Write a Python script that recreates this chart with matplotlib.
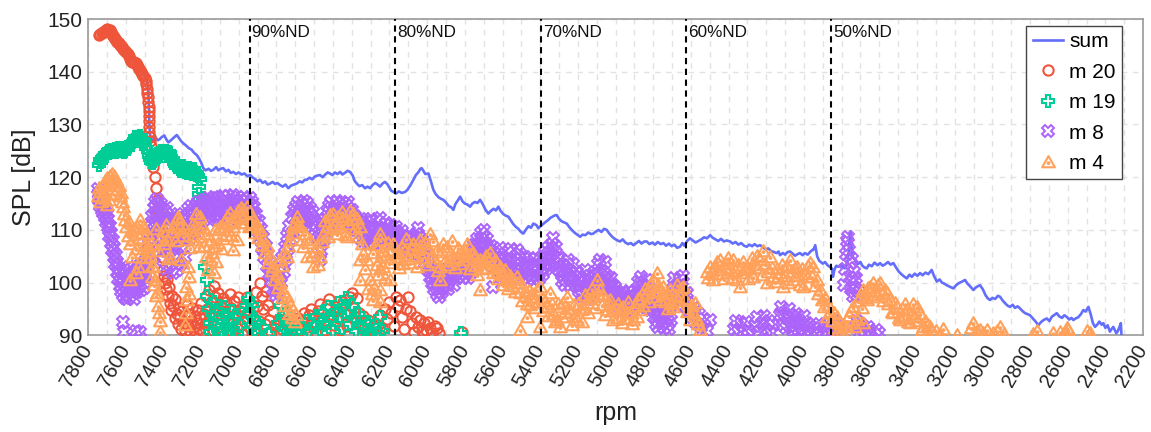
import numpy as np
import matplotlib
matplotlib.use("Agg")
import matplotlib.pyplot as plt
from matplotlib.path import Path
from matplotlib.ticker import MultipleLocator

plt.rcParams['font.family'] = ['Liberation Sans', 'DejaVu Sans']

# ---------------------------------------------------------------- data
# overall level (rpm, SPL dB)
sum_pts = [
    (7740, 146.9), (7720, 147.5), (7700, 148.0), (7690, 147.9),
    (7670, 147.0), (7650, 146.0), (7630, 145.2), (7610, 144.5), (7590, 143.8), (7570, 142.6),
    (7550, 142.0), (7530, 141.0), (7510, 140.1), (7495, 139.0), (7485, 137.8), (7480, 136.4),
    (7477, 133.5), (7475, 130.6), (7472, 128.4), (7468, 127.3), (7455, 127.0), (7444, 127.6),
    (7430, 127.0), (7420, 127.2), (7409, 127.6), (7395, 127.9), (7385, 127.2), (7374, 126.6),
    (7360, 127.0), (7345, 127.5), (7329, 128.0), (7315, 127.3), (7305, 126.8), (7294, 126.4),
    (7280, 126.0), (7265, 125.5), (7250, 125.2), (7237, 124.6), (7223, 124.2), (7210, 123.5),
    (7200, 122.8), (7188, 121.7), (7175, 121.3), (7160, 121.6), (7148, 121.2), (7135, 121.4),
    (7120, 121.9), (7108, 121.3), (7095, 121.6), (7082, 121.7), (7068, 121.1), (7055, 121.4),
    (7042, 120.8), (7029, 121.0), (7015, 120.6), (7000, 120.9), (6985, 120.5), (6970, 120.7),
    (6955, 120.2), (6940, 120.4), (6925, 119.9), (6912, 119.6), (6900, 119.2), (6887, 119.5),
    (6873, 118.9), (6860, 119.2), (6847, 118.6), (6834, 118.8), (6820, 119.1), (6807, 118.7),
    (6795, 118.9), (6781, 118.5), (6767, 118.2), (6752, 118.6), (6737, 117.9), (6722, 118.4),
    (6707, 118.6), (6692, 118.8), (6677, 119.2), (6663, 119.0), (6650, 119.5), (6639, 119.5),
    (6625, 119.9), (6610, 119.6), (6597, 120.1), (6583, 120.3), (6569, 120.4), (6555, 120.0),
    (6541, 120.5), (6528, 120.9), (6516, 120.7), (6503, 120.4), (6490, 120.9), (6476, 120.6),
    (6462, 121.0), (6450, 120.5), (6437, 120.8), (6423, 121.2), (6409, 121.0), (6395, 120.3),
    (6385, 119.3), (6374, 118.8), (6360, 118.3), (6345, 118.5), (6330, 117.9), (6316, 118.2),
    (6303, 117.9), (6290, 118.5), (6276, 118.9), (6263, 118.6), (6250, 118.2), (6237, 118.8),
    (6224, 119.1), (6212, 118.7), (6200, 118.0), (6190, 117.4), (6179, 117.2), (6165, 116.9),
    (6150, 117.3), (6135, 117.0), (6117, 117.2), (6105, 117.6), (6090, 118.4), (6073, 119.5),
    (6060, 120.4), (6045, 121.0), (6036, 121.6), (6029, 121.7), (6020, 121.2), (6010, 120.6),
    (5993, 120.7), (5980, 119.2), (5967, 117.6), (5955, 116.8), (5940, 116.2), (5927, 115.9),
    (5914, 115.7), (5900, 115.2), (5887, 114.6), (5873, 114.3), (5861, 113.8), (5850, 114.9),
    (5837, 115.6), (5825, 116.3), (5812, 115.4), (5800, 115.0), (5786, 114.8), (5772, 114.4),
    (5760, 115.0), (5747, 115.3), (5733, 115.1), (5719, 115.7), (5705, 114.9), (5690, 113.8),
    (5675, 113.1), (5662, 113.6), (5648, 114.0), (5635, 113.7), (5622, 114.4), (5610, 113.6),
    (5596, 113.0), (5583, 112.7), (5569, 112.5), (5556, 111.8), (5543, 111.1), (5530, 110.6),
    (5516, 110.2), (5502, 109.6), (5489, 109.3), (5475, 110.1), (5462, 110.7), (5449, 110.4),
    (5436, 111.2), (5420, 110.9), (5410, 110.3), (5401, 110.6), (5388, 111.0), (5375, 111.4),
    (5360, 111.8), (5345, 112.3), (5330, 112.6), (5320, 112.8), (5312, 112.8), (5300, 112.1),
    (5285, 111.6), (5272, 111.4), (5259, 111.2), (5245, 110.5), (5230, 109.9), (5215, 109.4),
    (5200, 109.0), (5188, 108.7), (5175, 109.1), (5160, 109.0), (5145, 109.5), (5130, 109.2),
    (5118, 109.3), (5104, 109.7), (5090, 110.0), (5075, 109.6), (5061, 110.2), (5047, 110.0),
    (5033, 109.3), (5018, 108.7), (5004, 108.3), (4990, 108.0), (4976, 107.8), (4962, 108.2),
    (4948, 107.6), (4933, 107.3), (4919, 107.5), (4905, 107.1), (4890, 107.5), (4876, 107.9),
    (4862, 107.4), (4848, 107.8), (4834, 107.8), (4820, 107.3), (4805, 107.6), (4790, 107.2),
    (4776, 107.7), (4760, 107.3), (4746, 107.5), (4732, 107.0), (4717, 107.4), (4702, 106.9),
    (4688, 107.2), (4673, 106.6), (4658, 106.8), (4645, 107.5), (4635, 107.0), (4620, 107.9),
    (4605, 108.4), (4590, 108.0), (4575, 107.6), (4560, 107.9), (4545, 108.2), (4530, 108.6),
    (4515, 108.4), (4498, 109.0), (4484, 108.5), (4470, 108.2), (4455, 107.9), (4440, 108.3),
    (4425, 107.8), (4410, 108.0), (4392, 107.8), (4378, 107.4), (4363, 107.7), (4348, 107.2),
    (4333, 107.5), (4318, 107.0), (4304, 106.8), (4290, 107.2), (4275, 106.9), (4262, 107.3),
    (4247, 106.9), (4233, 107.1), (4218, 106.7), (4203, 106.3), (4190, 106.5), (4175, 106.0),
    (4160, 105.8), (4145, 105.6), (4135, 105.9), (4127, 105.2), (4112, 105.6), (4100, 105.3),
    (4087, 105.8), (4074, 105.9), (4060, 105.5), (4047, 105.1), (4034, 105.4), (4021, 105.6),
    (4008, 105.2), (3995, 105.6), (3980, 105.3), (3965, 105.9), (3955, 106.2), (3950, 106.2),
    (3940, 107.1), (3930, 105.0), (3920, 104.2), (3914, 104.0), (3900, 103.6), (3888, 103.9),
    (3875, 103.3), (3863, 103.0), (3852, 102.7), (3846, 101.1), (3838, 102.5), (3828, 103.2),
    (3817, 103.0), (3805, 103.4), (3792, 102.9), (3782, 102.7), (3770, 103.5), (3762, 106.0),
    (3755, 109.7), (3748, 107.0), (3740, 104.8), (3729, 104.3), (3715, 103.5), (3700, 103.9),
    (3690, 103.2), (3680, 102.9), (3667, 102.7), (3655, 103.4), (3640, 103.1), (3625, 103.8),
    (3610, 103.3), (3596, 103.7), (3582, 103.2), (3568, 103.5), (3554, 103.9), (3540, 103.4),
    (3525, 103.7), (3510, 102.8), (3497, 102.1), (3483, 101.6), (3470, 101.2), (3454, 100.8),
    (3440, 101.5), (3427, 101.1), (3412, 101.7), (3398, 101.3), (3384, 101.8), (3370, 101.4),
    (3355, 101.9), (3340, 101.6), (3322, 102.4), (3310, 101.3), (3295, 100.2), (3280, 100.6),
    (3268, 100.0), (3255, 99.8), (3242, 99.5), (3225, 99.2), (3207, 98.9), (3192, 99.5),
    (3178, 99.9), (3160, 100.2), (3145, 100.5), (3132, 99.8), (3118, 99.3), (3101, 98.6),
    (3090, 99.0), (3078, 99.3), (3065, 99.5), (3050, 98.7), (3036, 97.6), (3024, 97.0),
    (3012, 96.7), (3000, 97.1), (2985, 96.9), (2970, 97.5), (2959, 97.3), (2945, 96.6),
    (2930, 96.0), (2918, 95.6), (2906, 95.4), (2892, 95.8), (2880, 95.2), (2866, 95.5),
    (2853, 95.1), (2840, 94.6), (2826, 94.2), (2812, 94.0), (2800, 93.8), (2785, 93.2),
    (2770, 92.6), (2756, 91.9), (2742, 92.5), (2728, 92.9), (2711, 93.2), (2697, 92.7),
    (2685, 93.5), (2670, 93.9), (2658, 94.2), (2645, 93.6), (2630, 93.3), (2618, 93.8),
    (2605, 93.5), (2592, 93.0), (2580, 93.3), (2570, 92.9), (2558, 93.2), (2545, 93.4),
    (2530, 94.0), (2517, 94.8), (2505, 94.5), (2490, 95.4), (2478, 94.0), (2466, 92.3),
    (2455, 91.6), (2444, 92.0), (2432, 92.6), (2420, 92.0), (2411, 92.3), (2400, 91.4),
    (2388, 91.9), (2376, 90.7), (2367, 91.2), (2358, 91.6), (2350, 91.0), (2342, 90.4),
    (2334, 90.8), (2326, 91.5), (2318, 92.3), (2313, 89.0),
]

# order 20
m20_pts = [
    (7740, 146.9), (7734, 147.1), (7728, 147.4), (7722, 147.6), (7716, 147.5), (7710, 147.8),
    (7704, 148.0), (7698, 148.1), (7692, 148.0), (7686, 147.9), (7680, 147.6), (7674, 147.2),
    (7668, 146.8), (7662, 146.5), (7656, 146.2), (7650, 146.0), (7644, 145.7), (7638, 145.5),
    (7632, 145.1), (7626, 144.9), (7620, 144.6), (7614, 144.4), (7608, 144.2), (7602, 144.0),
    (7596, 143.7), (7590, 143.3), (7584, 142.9), (7578, 142.5), (7572, 142.1), (7566, 141.9),
    (7560, 141.8), (7554, 141.9), (7548, 141.6), (7542, 141.2), (7536, 140.9), (7530, 140.6),
    (7524, 140.3), (7518, 140.0), (7512, 139.6), (7506, 139.2), (7500, 138.8), (7494, 138.3),
    (7490, 137.6), (7487, 136.8), (7485, 136.0), (7483, 135.2), (7481, 134.3), (7479, 133.4),
    (7478, 132.5), (7477, 131.6), (7476, 130.6), (7475, 129.6), (7474, 128.6), (7472, 127.7),
    (7470, 126.8), (7468, 126.0), (7455, 122.0), (7445, 120.1), (7440, 118.0), (7434, 115.7),
    (7428, 113.8), (7420, 110.6), (7416, 108.7), (7410, 104.9), (7400, 102.4),
    (7398, 101.2), (7392, 100.0), (7386, 98.8), (7381, 100.6), (7375, 97.4), (7370, 99.2),
    (7364, 96.1), (7359, 94.8), (7353, 97.5), (7347, 95.6), (7341, 93.2), (7336, 96.8),
    (7330, 94.0), (7324, 92.1), (7318, 95.2), (7312, 93.4), (7306, 91.2), (7300, 94.6),
    (7294, 92.6), (7288, 90.8), (7282, 93.9), (7276, 95.8), (7270, 91.8), (7264, 94.0),
    (7258, 90.9), (7252, 92.7), (7246, 95.1), (7240, 91.5), (7234, 93.6), (7228, 90.6),
    (7222, 92.4), (7216, 94.8), (7210, 91.2), (7204, 93.3), (7198, 96.2), (7192, 90.8),
    (7186, 94.1), (7180, 92.2), (7174, 97.4), (7168, 95.0), (7162, 92.8), (7156, 98.6),
    (7150, 96.3), (7144, 93.7), (7138, 91.0), (7132, 99.4), (7126, 97.2), (7120, 94.9),
    (7114, 92.3), (7108, 98.1), (7102, 95.7), (7096, 93.1), (7090, 90.7), (7084, 97.0),
    (7078, 94.4), (7072, 91.8), (7066, 96.4), (7060, 93.8), (7054, 90.9), (7048, 97.9),
    (7042, 95.2), (7036, 92.4), (7030, 90.5), (7024, 96.6), (7018, 93.9), (7012, 91.4),
    (7004, 97.3), (6996, 94.6), (6990, 92.0), (6982, 90.3), (6974, 95.3), (6966, 92.6),
    (6958, 97.2), (6950, 94.3), (6942, 91.5), (6934, 96.0), (6926, 93.4), (6918, 90.7),
    (6910, 98.3), (6902, 95.6), (6894, 92.8), (6886, 100.0), (6878, 97.5), (6870, 94.9),
    (6862, 92.1), (6854, 98.4), (6846, 95.8), (6838, 93.0), (6830, 90.6), (6820, 94.6),
    (6810, 92.0), (6798, 90.4), (6785, 93.1), (6772, 91.2), (6760, 92.5), (6745, 90.8),
    (6730, 91.6), (6715, 90.3), (6700, 91.9), (6688, 93.3), (6676, 91.0), (6664, 92.7),
    (6652, 94.2), (6640, 91.6), (6628, 93.8), (6616, 95.0), (6604, 92.4), (6592, 90.6),
    (6580, 94.7), (6568, 96.0), (6556, 93.2), (6544, 91.0), (6532, 95.8), (6520, 96.9),
    (6508, 94.1), (6496, 92.0), (6484, 95.4), (6472, 93.3), (6460, 91.1), (6448, 96.4),
    (6436, 94.0), (6424, 91.7), (6412, 97.3), (6400, 98.0), (6390, 95.1), (6380, 92.6),
    (6370, 97.0), (6360, 94.3), (6350, 91.9), (6340, 93.6), (6328, 90.8), (6316, 92.9),
    (6304, 90.5), (6290, 91.7), (6276, 90.4), (6262, 92.0), (6250, 93.8), (6238, 91.3),
    (6226, 95.0), (6214, 93.1), (6202, 96.4), (6190, 94.2), (6178, 91.8), (6166, 97.3),
    (6154, 95.6), (6144, 96.7), (6134, 93.5), (6122, 91.2), (6110, 95.0), (6100, 97.3),
    (6090, 94.6), (6080, 92.3), (6070, 90.7), (6060, 93.4), (6050, 91.6), (6040, 92.9),
    (6030, 90.8), (6018, 92.3), (6006, 91.0), (5995, 92.6), (5985, 91.4), (5972, 90.5),
    (5960, 91.8), (5949, 91.3), (5938, 90.4), (5816, 90.7),
]

# order 19
m19_pts = [
    (7742, 122.4), (7736, 123.2), (7730, 122.8), (7724, 123.6), (7718, 123.9), (7712, 124.4),
    (7706, 124.0), (7700, 124.6), (7694, 125.0), (7688, 124.5), (7682, 124.8), (7676, 125.2),
    (7670, 124.7), (7664, 124.9), (7658, 125.3), (7652, 124.8), (7646, 125.1), (7640, 125.5),
    (7634, 124.9), (7628, 125.2), (7622, 125.6), (7616, 125.1), (7610, 124.7), (7604, 125.0),
    (7598, 125.4), (7592, 125.8), (7586, 125.3), (7580, 125.9), (7574, 126.4), (7568, 126.1),
    (7562, 126.7), (7556, 127.0), (7550, 127.6), (7544, 127.2), (7538, 127.6), (7532, 127.3),
    (7526, 127.8), (7520, 127.5), (7514, 127.1), (7508, 126.6), (7502, 126.9), (7496, 126.2),
    (7490, 125.6), (7484, 124.9), (7478, 124.1), (7472, 123.4), (7466, 122.8), (7460, 123.3),
    (7454, 122.6), (7448, 123.0), (7442, 123.8), (7436, 124.4), (7430, 124.0), (7424, 124.6),
    (7418, 124.2), (7412, 124.9), (7406, 124.5), (7400, 124.1), (7394, 124.7), (7388, 125.0),
    (7382, 124.6), (7376, 124.2), (7370, 124.8), (7364, 124.5), (7358, 123.9), (7352, 123.3),
    (7346, 122.7), (7340, 122.3), (7334, 122.0), (7328, 122.6), (7322, 122.1), (7316, 121.6),
    (7310, 121.2), (7304, 121.7), (7298, 122.1), (7292, 121.5), (7286, 121.0), (7280, 121.4),
    (7274, 120.8), (7268, 121.3), (7262, 121.7), (7256, 121.2), (7250, 120.6), (7244, 121.1),
    (7238, 121.5), (7232, 120.9), (7226, 120.4), (7220, 120.8), (7214, 120.2), (7208, 119.6),
    (7213, 118.2), (7211, 116.9), (7208, 115.8), (7178, 103.0), (7170, 100.4),
    (7166, 97.5), (7160, 95.0), (7154, 92.4), (7148, 90.6), (7140, 94.1), (7132, 96.3),
    (7124, 92.0), (7116, 94.8), (7108, 91.0), (7100, 93.2), (7092, 90.4), (7084, 92.6),
    (7076, 95.4), (7068, 91.5), (7060, 93.9), (7052, 90.8), (7044, 92.9), (7036, 94.7),
    (7028, 91.2), (7020, 93.6), (7010, 90.5), (6990, 91.8), (6960, 95.5), (6952, 96.8),
    (6944, 94.2), (6936, 92.0), (6928, 95.8), (6920, 93.1), (6912, 90.9), (6904, 92.6),
    (6896, 90.4), (6870, 91.5), (6840, 90.3), (6790, 92.3), (6778, 95.6), (6770, 93.4),
    (6760, 91.2), (6748, 94.0), (6736, 91.8), (6722, 90.6), (6705, 91.9), (6690, 90.7),
    (6660, 91.3), (6640, 92.8), (6625, 90.9), (6600, 91.6), (6585, 93.7), (6570, 91.2),
    (6555, 94.5), (6540, 92.3), (6525, 95.4), (6510, 93.0), (6498, 90.8), (6486, 94.1),
    (6474, 96.2), (6462, 93.6), (6450, 91.3), (6440, 95.5), (6430, 97.0), (6420, 94.4),
    (6410, 92.1), (6400, 95.8), (6390, 93.2), (6380, 90.9), (6368, 94.0), (6356, 91.6),
    (6344, 93.3), (6330, 91.0), (6316, 92.4), (6300, 90.6), (6285, 91.8), (6262, 90.5),
    (6250, 93.5), (6232, 90.8), (5820, 90.4),
]

# order 8
m8_pts = [
    (7748, 117.8), (7744, 115.6), (7740, 117.0), (7736, 114.6), (7732, 116.4), (7728, 113.8),
    (7724, 115.9), (7720, 113.2), (7716, 115.1), (7712, 112.4), (7708, 114.3), (7704, 111.5),
    (7700, 113.0), (7696, 110.6), (7692, 112.1), (7688, 108.9), (7684, 110.7), (7680, 107.6),
    (7676, 109.4), (7672, 106.2), (7668, 108.0), (7664, 104.9), (7660, 106.8), (7656, 103.6),
    (7652, 105.2), (7648, 102.1), (7644, 104.0), (7640, 100.6), (7636, 102.8), (7632, 99.3),
    (7628, 101.5), (7624, 98.4), (7620, 100.7), (7616, 97.6), (7612, 99.9), (7608, 102.3),
    (7604, 97.1), (7600, 99.2), (7596, 101.6), (7592, 96.8), (7588, 98.9), (7584, 103.0),
    (7580, 100.4), (7576, 97.5), (7572, 99.6), (7568, 101.9), (7564, 98.0), (7560, 100.2),
    (7556, 96.9), (7552, 99.0), (7548, 102.4), (7544, 100.8), (7540, 98.2), (7536, 101.0),
    (7532, 103.1), (7528, 99.5), (7524, 101.7), (7520, 98.6), (7516, 100.9), (7512, 103.4),
    (7508, 101.2), (7504, 99.0), (7500, 102.0), (7496, 104.1), (7492, 101.5),
    (7488, 103.8), (7484, 106.2), (7480, 104.0), (7476, 108.4), (7472, 105.7), (7468, 110.5),
    (7464, 107.8), (7460, 112.6), (7456, 109.9), (7452, 114.2), (7448, 111.4), (7444, 115.3),
    (7440, 112.8), (7436, 115.8), (7432, 113.4), (7428, 111.0), (7424, 114.6),
    (7420, 112.1), (7416, 109.4), (7412, 114.9), (7408, 106.8), (7404, 111.6), (7400, 104.2),
    (7396, 113.7), (7392, 108.3), (7388, 102.6), (7384, 110.9), (7380, 114.2), (7376, 105.9),
    (7372, 108.7), (7368, 112.0), (7364, 103.4), (7360, 110.2), (7356, 107.0), (7352, 113.1),
    (7348, 101.8), (7344, 109.5), (7340, 104.7), (7336, 111.7), (7332, 107.6), (7328, 102.3),
    (7324, 110.4), (7320, 105.3), (7316, 112.5), (7312, 108.2), (7308, 103.6), (7304, 110.9),
    (7300, 106.4), (7296, 113.0), (7292, 109.0), (7288, 104.8), (7284, 111.4), (7280, 108.0),
    (7276, 112.7), (7272, 109.6), (7268, 113.9), (7264, 110.8), (7260, 108.5), (7256, 112.3),
    (7252, 114.5), (7248, 110.0), (7244, 112.9), (7240, 109.4), (7236, 113.7), (7232, 111.2),
    (7228, 114.8), (7224, 110.5), (7220, 113.0), (7216, 115.2), (7212, 111.6), (7208, 113.9),
    (7204, 110.9), (7200, 114.6), (7196, 112.2), (7192, 115.4),
    (7188, 113.1), (7182, 115.6), (7176, 112.4), (7170, 114.7), (7164, 116.0), (7158, 113.3),
    (7152, 111.8), (7146, 115.2), (7140, 113.8), (7134, 116.3), (7128, 112.6), (7122, 114.9),
    (7116, 116.1), (7110, 113.5), (7104, 111.9), (7098, 115.4), (7092, 113.0), (7086, 116.4),
    (7080, 114.2), (7074, 112.3), (7068, 115.7), (7062, 113.6), (7056, 116.5), (7050, 114.4),
    (7044, 112.1), (7038, 115.1), (7032, 116.6), (7026, 113.9), (7020, 115.8), (7014, 112.5),
    (7008, 114.7), (7002, 116.3), (6996, 113.4), (6990, 115.5), (6984, 112.2), (6978, 114.3),
    (6972, 116.2), (6966, 113.7), (6960, 115.6), (6954, 112.6), (6948, 114.8), (6942, 116.0),
    (6936, 113.2), (6930, 115.3),
    (6924, 112.8), (6918, 114.4), (6912, 111.3), (6906, 113.0), (6900, 109.7), (6894, 111.6),
    (6888, 108.2), (6882, 110.1), (6876, 106.5), (6870, 108.7), (6864, 104.9), (6858, 107.0),
    (6852, 103.2), (6846, 105.5), (6840, 101.6), (6834, 103.9), (6828, 100.3), (6822, 102.4),
    (6816, 98.8), (6810, 101.0), (6804, 97.6), (6798, 99.8), (6792, 98.4),
    (6786, 100.6), (6780, 102.7), (6774, 99.9), (6768, 104.6), (6762, 102.1), (6756, 106.8),
    (6750, 104.3), (6744, 108.9), (6738, 106.4), (6732, 110.7), (6726, 108.2), (6720, 112.4),
    (6714, 109.6), (6708, 113.7), (6702, 110.9), (6696, 114.6), (6690, 112.0), (6684, 115.3),
    (6678, 113.2), (6672, 111.4), (6666, 114.7), (6660, 112.5), (6654, 115.4), (6648, 110.8),
    (6642, 113.6), (6636, 115.1), (6630, 111.9), (6624, 114.2), (6618, 112.7), (6612, 110.5),
    (6606, 113.4), (6600, 111.6),
    (6594, 109.0), (6588, 111.2), (6582, 106.8), (6576, 108.6), (6570, 104.2), (6566, 106.0),
    (6562, 108.3), (6556, 110.4), (6550, 108.1), (6544, 112.0), (6538, 110.2), (6532, 113.6),
    (6526, 111.5), (6520, 114.5), (6514, 112.3), (6508, 115.2), (6502, 113.0), (6496, 110.8),
    (6490, 114.1), (6484, 112.6), (6478, 115.4), (6472, 113.3), (6466, 111.1), (6460, 114.0),
    (6454, 112.4), (6448, 115.1), (6442, 113.6), (6436, 111.4), (6430, 114.7), (6424, 112.2),
    (6418, 115.3), (6412, 113.5), (6406, 111.0), (6400, 113.8), (6394, 111.9), (6388, 110.4),
    (6382, 112.6),
    (6376, 109.9), (6370, 111.8), (6364, 108.6), (6358, 110.7), (6352, 112.1), (6346, 109.3),
    (6340, 107.8), (6334, 110.9), (6328, 108.4), (6322, 111.5), (6316, 109.0), (6310, 107.4),
    (6304, 110.3), (6298, 112.0), (6292, 108.8), (6286, 110.6), (6280, 107.6), (6274, 109.8),
    (6268, 111.7), (6262, 108.3), (6256, 110.4), (6250, 112.2), (6244, 109.1), (6238, 107.3),
    (6232, 110.0), (6226, 108.2), (6220, 111.3), (6214, 109.4), (6208, 107.6), (6202, 110.2),
    (6196, 108.1), (6190, 110.9), (6184, 107.9), (6178, 109.6), (6172, 108.0), (6166, 110.5),
    (6160, 108.6), (6154, 106.9), (6148, 109.2), (6142, 107.5), (6136, 109.8), (6130, 107.1),
    (6124, 108.9), (6118, 106.6), (6112, 108.4), (6106, 105.9), (6100, 107.7), (6094, 106.3),
    (6088, 108.6), (6082, 105.8), (6076, 107.4), (6070, 105.2), (6064, 107.0),
    (6058, 109.2), (6052, 107.9), (6046, 110.3), (6040, 108.4), (6034, 106.5), (6028, 108.0),
    (6022, 105.3), (6016, 106.9), (6010, 103.8), (6004, 105.6), (5998, 102.4), (5992, 104.3),
    (5986, 101.1), (5980, 103.0), (5974, 99.9), (5968, 101.8), (5962, 98.7), (5956, 100.6),
    (5950, 97.9), (5944, 99.6), (5938, 97.2), (5932, 98.8),
    (5926, 100.4), (5920, 98.3), (5914, 101.5), (5908, 99.4), (5902, 102.3), (5896, 100.0),
    (5890, 98.7), (5884, 101.2), (5878, 103.0), (5872, 100.6), (5866, 102.4), (5860, 99.5),
    (5854, 101.8), (5848, 103.5), (5842, 100.9), (5836, 102.7), (5830, 104.0), (5824, 101.4),
    (5818, 103.2), (5812, 100.8), (5806, 102.5), (5800, 104.1), (5794, 101.7), (5788, 103.4),
    (5782, 100.9), (5776, 102.8), (5770, 104.5), (5764, 102.0),
    (5758, 105.3), (5752, 107.1), (5746, 104.2), (5740, 106.4), (5734, 108.3), (5728, 105.6),
    (5722, 107.6), (5716, 109.4), (5710, 106.9), (5704, 108.7), (5698, 110.0), (5692, 107.5),
    (5686, 105.3), (5680, 108.2), (5674, 106.1), (5668, 104.0), (5662, 106.9), (5656, 104.8),
    (5650, 103.1), (5644, 105.6), (5649, 99.2),
    (5638, 103.9), (5632, 106.0), (5626, 102.4), (5620, 104.6), (5614, 106.5), (5608, 103.2),
    (5602, 101.4), (5596, 104.9), (5590, 102.8), (5584, 100.9), (5578, 103.7), (5572, 105.8),
    (5566, 102.2), (5560, 104.3), (5554, 106.3), (5548, 103.0), (5542, 101.1), (5536, 104.5),
    (5530, 102.6), (5524, 106.2), (5518, 104.0), (5512, 101.8), (5506, 105.4), (5500, 103.3),
    (5494, 100.9), (5488, 102.9), (5482, 104.8), (5476, 101.5), (5470, 103.6), (5464, 100.6),
    (5458, 102.7), (5452, 104.4), (5446, 101.2), (5440, 103.1), (5434, 100.4), (5428, 102.3),
    (5422, 104.6), (5416, 101.0), (5410, 103.4), (5404, 100.7),
    (5398, 102.8), (5392, 104.9), (5386, 101.6), (5380, 103.7), (5374, 105.8), (5368, 102.5),
    (5362, 104.4), (5356, 106.6), (5350, 103.3), (5344, 105.2), (5338, 107.3), (5332, 108.5),
    (5326, 105.9), (5320, 103.8), (5314, 106.7), (5308, 104.4), (5302, 102.3),
    (5296, 104.6), (5290, 102.0), (5284, 100.3), (5278, 103.4), (5272, 101.2), (5266, 99.6),
    (5260, 102.6), (5254, 104.2), (5248, 101.0), (5242, 99.3), (5236, 102.1), (5230, 100.4),
    (5224, 103.5), (5218, 101.3), (5212, 99.5), (5206, 102.0), (5200, 100.2),
    (5194, 98.4), (5188, 101.1), (5182, 99.6), (5176, 97.5), (5170, 100.2), (5164, 102.4),
    (5158, 98.9), (5152, 96.8), (5146, 99.5), (5140, 101.3), (5134, 98.0), (5128, 100.4),
    (5122, 97.2), (5116, 99.9), (5110, 102.0), (5104, 98.6),
    (5098, 101.4), (5092, 103.6), (5086, 100.1), (5080, 104.3), (5074, 102.2), (5068, 99.5),
    (5062, 101.8), (5056, 103.9), (5050, 100.6), (5044, 98.8), (5038, 101.0), (5032, 99.3),
    (5026, 100.9), (5020, 98.2), (5014, 99.6), (5008, 97.8), (5002, 99.1),
    (4996, 96.7), (4990, 98.4), (4984, 95.5), (4978, 97.3), (4972, 94.6), (4966, 96.4),
    (4960, 98.0), (4954, 95.2), (4948, 97.1), (4942, 94.9), (4936, 96.6), (4930, 98.5),
    (4924, 95.8), (4918, 97.6), (4912, 94.7), (4906, 96.9), (4900, 98.3),
    (4894, 95.6), (4888, 97.9), (4882, 100.2), (4876, 96.4), (4870, 98.7), (4864, 101.0),
    (4858, 97.2), (4852, 99.5), (4846, 95.3), (4840, 97.8), (4834, 100.4), (4828, 96.5),
    (4822, 98.9), (4816, 94.8), (4810, 97.0), (4804, 95.6),
    (4798, 93.4), (4792, 95.5), (4786, 92.2), (4780, 94.3), (4774, 91.6), (4768, 93.8),
    (4762, 95.7), (4756, 92.6), (4750, 94.5), (4744, 91.3), (4738, 93.2), (4732, 95.1),
    (4726, 92.0), (4720, 93.9), (4714, 91.2), (4708, 93.0),
    (4700, 96.4), (4694, 98.7), (4688, 100.9), (4682, 97.3), (4676, 99.6), (4670, 95.8),
    (4664, 98.2), (4658, 100.5), (4652, 96.9), (4646, 99.1), (4640, 101.2), (4634, 97.6),
    (4628, 95.4), (4622, 98.0), (4616, 96.2), (4610, 94.6),
    (4596, 93.5), (4584, 95.2), (4572, 92.4), (4558, 94.0), (4545, 91.6), (4530, 93.1),
    (4515, 90.8), (4498, 92.9),
    (4372, 91.2), (4360, 92.8), (4348, 90.6), (4336, 92.1), (4324, 90.9), (4310, 92.5),
    (4298, 91.0), (4260, 91.8), (4248, 93.4), (4236, 90.7), (4224, 92.3), (4212, 93.6),
    (4200, 91.1), (4188, 92.7), (4176, 90.5), (4164, 91.9),
    (4128, 93.8), (4120, 95.3), (4112, 92.0), (4104, 94.2), (4096, 91.4), (4088, 93.3),
    (4080, 95.0), (4072, 91.7), (4064, 93.6), (4056, 90.8), (4048, 92.5), (4040, 94.1),
    (4032, 91.2), (4024, 92.9), (4016, 90.6), (4008, 92.2), (4000, 93.7), (3992, 91.0),
    (3984, 92.4), (3976, 90.5), (3968, 91.8),
    (3946, 91.3), (3932, 90.6), (3918, 92.2), (3904, 90.9), (3890, 91.6), (3876, 90.4),
    (3862, 92.4), (3848, 91.0), (3834, 92.8), (3820, 90.7), (3806, 91.9), (3792, 90.5),
    (3786, 99.5), (3780, 102.6), (3775, 105.4), (3770, 107.8), (3766, 108.7), (3762, 106.2),
    (3758, 103.8), (3754, 101.1), (3750, 98.7), (3746, 104.5), (3742, 100.3), (3738, 97.4),
    (3734, 102.1), (3728, 99.0), (3722, 100.8), (3716, 97.6), (3706, 98.3),
    (3730, 91.5), (3718, 92.8), (3704, 90.6), (3690, 92.0), (3676, 90.9), (3662, 91.6),
    (3648, 90.4), (3620, 91.1), (3600, 90.5),
    (7612, 92.5), (7608, 90.6), (7545, 90.8), (7524, 90.6),
]

# order 4
m4_pts = [
    (7746, 116.4), (7742, 118.0), (7738, 115.3), (7734, 117.2), (7728, 116.0), (7722, 118.4),
    (7716, 117.1), (7710, 119.2), (7704, 117.8), (7698, 119.8), (7692, 118.5), (7686, 120.3),
    (7680, 119.0), (7674, 120.6), (7668, 119.4), (7662, 120.2), (7656, 118.8), (7650, 119.5),
    (7644, 117.6), (7638, 118.3), (7632, 116.4), (7626, 117.0), (7620, 115.2), (7614, 114.3),
    (7608, 113.0), (7602, 111.8), (7596, 110.6), (7688, 115.6), (7660, 116.9), (7700, 114.8),
    (7590, 108.9), (7584, 111.5), (7578, 107.4), (7572, 109.7), (7566, 104.9), (7560, 108.1),
    (7554, 110.2), (7548, 106.3), (7542, 110.6), (7536, 103.0), (7530, 108.4), (7524, 111.9),
    (7518, 105.6), (7512, 109.4), (7506, 110.6), (7500, 107.2), (7494, 104.6), (7488, 109.3),
    (7482, 106.8), (7577, 100.5), (7545, 101.8),
    (7476, 105.9), (7471, 104.9), (7466, 107.4), (7462, 103.2), (7458, 101.0), (7453, 103.0),
    (7448, 99.6), (7444, 100.5), (7440, 97.4), (7435, 98.0), (7430, 95.6), (7424, 94.2),
    (7418, 92.8), (7418, 90.7), (7418, 108.1), (7428, 106.0), (7438, 110.2),
    (7404, 109.8), (7396, 107.3), (7388, 111.0), (7382, 108.1), (7374, 104.4), (7365, 104.9),
    (7356, 109.6), (7347, 110.6), (7338, 107.9), (7330, 112.0), (7320, 112.5), (7312, 110.4),
    (7304, 104.3), (7296, 108.9), (7286, 110.2), (7276, 108.1), (7270, 103.0), (7278, 99.2),
    (7274, 96.7), (7280, 94.2), (7266, 101.0), (7284, 92.0), (7262, 97.9),
    (7258, 106.5), (7250, 109.7), (7241, 111.2), (7234, 108.1), (7226, 113.0), (7218, 110.3),
    (7210, 106.8), (7205, 112.5), (7200, 108.7),
    (7192, 110.4), (7184, 107.0), (7176, 104.9), (7170, 109.3), (7162, 102.4), (7155, 104.3),
    (7148, 108.0), (7140, 105.6), (7135, 106.8), (7132, 101.8), (7126, 109.9), (7120, 104.0),
    (7112, 107.5), (7106, 110.2), (7099, 110.6), (7094, 106.4),
    (7086, 108.3), (7078, 111.3), (7070, 109.0), (7064, 112.5), (7056, 110.0), (7048, 113.2),
    (7040, 108.8), (7034, 111.6), (7029, 110.6), (7029, 106.2), (7020, 112.4), (7011, 108.1),
    (7004, 113.5), (6996, 111.3), (6988, 114.1), (6982, 112.0), (6976, 113.8), (6968, 111.4),
    (6958, 114.4), (6950, 112.2), (6944, 110.5),
    (6936, 112.5), (6928, 110.8), (6920, 111.8), (6912, 109.5), (6905, 110.6), (6896, 108.4),
    (6888, 109.9), (6878, 107.1), (6869, 108.1), (6860, 105.6), (6852, 106.9), (6843, 103.8),
    (6834, 104.9), (6826, 102.2), (6816, 103.0), (6808, 100.4), (6798, 101.6), (6790, 98.9),
    (6781, 99.9), (6772, 97.0), (6763, 98.3), (6754, 95.6), (6745, 97.3), (6736, 94.1),
    (6728, 95.8), (6719, 93.2), (6710, 94.8), (6702, 92.6), (6694, 93.9),
    (6781, 104.3), (6768, 103.2), (6758, 105.6), (6745, 104.9), (6738, 107.0), (6728, 108.1),
    (6718, 109.5), (6710, 110.6), (6700, 111.4), (6692, 112.5), (6684, 111.0),
    (6675, 110.6), (6666, 108.0), (6657, 106.8), (6648, 109.3), (6640, 104.9), (6630, 107.6),
    (6622, 108.1), (6613, 105.1), (6604, 103.0), (6595, 105.8), (6586, 106.8), (6578, 103.4),
    (6569, 104.9), (6560, 107.7), (6552, 109.0),
    (6542, 111.6), (6533, 110.6), (6524, 108.6), (6515, 112.8), (6506, 110.2), (6498, 113.1),
    (6490, 111.0), (6480, 109.3), (6471, 112.4), (6462, 110.5), (6454, 113.3), (6445, 111.9),
    (6436, 109.0), (6427, 108.7), (6418, 111.2), (6410, 113.6), (6400, 111.8), (6392, 113.1),
    (6383, 110.2), (6374, 112.0), (6365, 108.6), (6356, 110.6),
    (6356, 104.3), (6356, 100.5), (6346, 107.4), (6338, 105.5), (6330, 102.5), (6321, 104.3),
    (6312, 98.8), (6303, 100.5), (6294, 97.9), (6285, 96.7), (6280, 99.0),
    (6285, 105.6), (6276, 107.2), (6268, 103.4), (6260, 101.5), (6250, 108.1), (6250, 109.3),
    (6250, 98.6), (6250, 96.3), (6248, 102.6), (6244, 104.8), (6238, 106.0), (6232, 103.0),
    (6224, 100.9), (6216, 105.2), (6208, 107.6), (6200, 103.8), (6197, 100.5), (6188, 106.1),
    (6179, 107.4), (6170, 104.4), (6161, 105.6), (6152, 102.7), (6144, 104.9),
    (6135, 106.8), (6126, 103.6), (6118, 105.9), (6110, 108.2), (6100, 104.4), (6091, 103.7),
    (6082, 106.4), (6073, 107.4), (6064, 105.0), (6055, 102.9), (6046, 106.3), (6038, 108.0),
    (6029, 104.7), (6020, 105.6), (6011, 107.6), (6002, 103.4), (5994, 106.5), (5985, 109.3),
    (5976, 105.2), (5967, 107.8), (5958, 104.0), (5950, 106.2), (5941, 102.2), (5932, 103.0),
    (5932, 100.5), (5923, 105.8), (5914, 107.3), (5905, 104.1), (5896, 106.8), (5887, 103.3),
    (5878, 105.5), (5869, 107.9), (5860, 104.6), (5852, 102.7), (5843, 104.9), (5834, 106.6),
    (5825, 103.6), (5816, 105.8), (5808, 104.3), (5799, 106.0), (5790, 107.4), (5781, 104.8),
    (5772, 102.5), (5764, 105.2), (5755, 105.6), (5746, 103.1), (5737, 101.4), (5728, 104.0),
    (5719, 104.3), (5719, 98.6), (5710, 102.6), (5700, 103.9),
    (5690, 105.0), (5680, 102.8), (5672, 104.1), (5666, 105.6), (5658, 103.4), (5649, 101.8),
    (5640, 104.3), (5631, 102.1), (5622, 100.7), (5613, 103.0), (5604, 101.5), (5596, 99.6),
    (5587, 102.3), (5578, 100.5), (5569, 98.8), (5560, 101.3), (5551, 99.4), (5542, 100.5),
    (5533, 98.2), (5524, 101.1), (5516, 99.9), (5507, 98.0), (5498, 96.6), (5489, 99.2),
    (5480, 97.5), (5471, 96.0), (5462, 98.4), (5453, 95.8), (5445, 97.9), (5436, 97.3),
    (5427, 95.1), (5418, 98.6), (5410, 96.4), (5401, 99.2),
    (5507, 91.0), (5471, 93.5), (5401, 91.6),
    (5392, 97.1), (5383, 94.6), (5374, 96.5), (5365, 95.4), (5356, 93.6), (5347, 98.0),
    (5338, 96.0), (5330, 94.0), (5321, 92.5), (5312, 92.9), (5304, 95.9), (5295, 95.4),
    (5295, 91.6), (5286, 93.4), (5277, 96.2), (5268, 94.4), (5259, 97.3), (5250, 95.0),
    (5241, 94.2), (5232, 92.0), (5223, 95.7), (5215, 93.5), (5206, 92.9), (5197, 96.0),
    (5188, 94.8), (5180, 92.6), (5171, 95.2), (5162, 97.6), (5153, 96.1),
    (5144, 94.3), (5135, 96.9), (5126, 98.8), (5118, 97.3), (5109, 95.2), (5100, 100.5),
    (5091, 97.9), (5082, 98.6), (5073, 95.8), (5064, 97.5), (5056, 93.8), (5047, 94.8),
    (5038, 96.3), (5029, 96.7), (5020, 94.6), (5011, 92.9), (5002, 95.1), (4994, 93.3),
    (4985, 96.0), (4976, 94.8), (4967, 92.4),
    (4958, 95.3), (4950, 93.1), (4941, 94.2), (4932, 96.4), (4923, 94.5), (4914, 92.2),
    (4905, 92.9), (4896, 95.6), (4888, 93.4), (4879, 96.8), (4871, 94.8), (4862, 97.6),
    (4853, 95.5), (4843, 98.8), (4834, 98.0), (4825, 96.4), (4816, 99.3), (4808, 97.2),
    (4799, 100.5), (4790, 98.4), (4782, 101.8), (4773, 99.5),
    (4764, 96.7), (4755, 98.1), (4746, 99.2), (4737, 96.3), (4728, 97.8), (4720, 94.9),
    (4711, 98.6), (4702, 96.0), (4693, 95.4), (4684, 97.7), (4676, 99.6), (4667, 96.6),
    (4658, 97.3), (4649, 98.9), (4640, 99.2), (4631, 96.8), (4622, 94.4), (4614, 96.0),
    (4605, 92.9), (4596, 95.5), (4587, 94.2), (4578, 96.1), (4569, 93.0), (4560, 92.1),
    (4552, 91.0),
    (4516, 102.0), (4507, 100.8), (4498, 103.0), (4490, 101.6), (4481, 100.5), (4472, 102.9),
    (4463, 104.0), (4454, 101.7), (4445, 104.3), (4436, 102.4), (4427, 100.6), (4418, 103.6),
    (4410, 101.8), (4401, 104.7), (4392, 102.7), (4384, 100.9), (4375, 104.3), (4366, 102.2),
    (4357, 100.4), (4348, 103.3), (4339, 99.2), (4330, 101.9), (4322, 104.0), (4313, 102.3),
    (4304, 103.0), (4295, 100.7), (4286, 102.5), (4277, 104.6), (4268, 101.1), (4260, 103.4),
    (4251, 105.0), (4242, 102.7), (4233, 104.3), (4224, 101.4), (4216, 105.9), (4207, 103.6),
    (4198, 99.9), (4189, 102.1), (4180, 104.9), (4172, 102.8), (4163, 101.1), (4154, 100.2),
    (4145, 102.5), (4136, 100.8),
    (4127, 101.8), (4118, 103.4), (4110, 99.2), (4101, 101.2), (4092, 103.0), (4083, 100.0),
    (4074, 104.3), (4066, 102.0), (4057, 100.5), (4048, 102.8), (4039, 103.0), (4030, 101.3),
    (4021, 99.6), (4012, 102.5), (4003, 99.2), (3994, 101.7), (3985, 101.1), (3977, 103.2),
    (3968, 103.7), (3959, 101.0), (3950, 103.0), (3941, 99.4), (3932, 100.5), (3923, 97.8),
    (3914, 98.6),
    (3905, 96.7), (3896, 95.4), (3888, 97.0), (3879, 93.5), (3870, 95.8), (3861, 94.2),
    (3852, 92.8), (3843, 94.2), (3834, 91.4), (3826, 93.5), (3817, 90.8), (3808, 92.3),
    (3799, 90.6), (3790, 91.7), (3773, 91.6),
    (3760, 93.6), (3750, 94.6), (3737, 95.4), (3728, 91.5), (3720, 92.9), (3711, 96.6),
    (3702, 97.3), (3693, 95.1), (3684, 98.6), (3684, 92.3), (3675, 97.0), (3667, 96.7),
    (3658, 98.9), (3649, 99.2), (3640, 97.6), (3631, 99.9), (3622, 98.2), (3614, 97.3),
    (3605, 99.5), (3596, 99.9), (3587, 97.9), (3578, 96.5), (3570, 98.6), (3561, 98.0),
    (3552, 95.9), (3543, 96.7), (3534, 94.5), (3525, 94.2), (3516, 96.1), (3507, 95.4),
    (3498, 93.2), (3490, 92.9), (3481, 95.0), (3472, 93.6), (3463, 96.0), (3454, 94.8),
    (3446, 92.5), (3437, 92.3), (3428, 94.1), (3419, 96.0), (3410, 93.4), (3401, 95.4),
    (3392, 92.8), (3384, 94.0), (3375, 91.0), (3366, 91.6), (3357, 92.7), (3348, 90.5),
    (3340, 91.9), (3331, 91.6),
    (3300, 90.8), (3278, 90.0), (3260, 91.2), (3190, 90.0), (3115, 91.4), (3101, 92.3),
    (3085, 90.6), (3065, 91.0), (3048, 90.4), (3030, 91.0), (2995, 90.4), (2975, 90.9),
    (2959, 91.6), (2940, 90.3), (2782, 90.3), (2765, 90.8), (2676, 90.4), (2641, 90.7),
    (2618, 90.2), (2605, 91.3), (2596, 91.0), (2495, 90.9), (2480, 90.4),
]

# speed markers (fraction of design speed)
nd_rpm = [6943, 6170, 5398, 4627, 3856]
nd_labels = ["90%ND", "80%ND", "70%ND", "60%ND", "50%ND"]

# -------------------------------------------------------------- styling
C_SUM = "#636EFA"
C_M20 = "#EF553B"
C_M19 = "#00CC96"
C_M8 = "#AB63FA"
C_M4 = "#FFA15A"

# open triangle with a centre dot
_tri = Path([(0, 1), (-1, -0.75), (1, -0.75), (0, 1)],
            [Path.MOVETO, Path.LINETO, Path.LINETO, Path.CLOSEPOLY])
_dot = Path.circle(center=(0, -0.1), radius=0.14)
TRI_DOT = Path.make_compound_path(_tri, _dot)

fig = plt.figure(figsize=(11.51, 4.32), dpi=100)
ax = fig.add_axes([0.0765, 0.2238, 0.9166, 0.7322])


def xy(pts):
    a = np.array(pts, dtype=float)
    return a[:, 0], a[:, 1]


x, y = xy(sum_pts)
ax.plot(x, y, color=C_SUM, lw=1.9, label="sum", zorder=3)

x, y = xy(m20_pts)
ax.plot(x, y, ls="none", marker="o", ms=7.4, mfc="none", mec=C_M20, mew=1.5,
        label="m 20", zorder=4)

x, y = xy(m19_pts)
ax.plot(x, y, ls="none", marker="P", ms=8.4, mfc="none", mec=C_M19, mew=1.5,
        label="m 19", zorder=5)

x, y = xy(m8_pts)
ax.plot(x, y, ls="none", marker="X", ms=8.4, mfc="none", mec=C_M8, mew=1.4,
        label="m 8", zorder=6)

x, y = xy(m4_pts)
ax.plot(x, y, ls="none", marker=TRI_DOT, ms=9.2, mfc="none", mec=C_M4, mew=1.5,
        label="m 4", zorder=7)

for r, lab in zip(nd_rpm, nd_labels):
    ax.axvline(r, color="black", lw=1.5, ls=(0, (3, 2.2)), zorder=8)
    ax.annotate(lab, xy=(r, 147.5), xytext=(1.5, 0), textcoords="offset points",
                ha="left", va="center", fontsize=12.3, color="#111111", zorder=9)

# axes
ax.set_xlim(7800, 2200)
ax.set_ylim(90, 150)
ax.xaxis.set_major_locator(MultipleLocator(200))
ax.xaxis.set_minor_locator(MultipleLocator(100))
ax.yaxis.set_major_locator(MultipleLocator(10))

ax.grid(which="both", axis="x", color="#e2e2e2", lw=1.0, ls=(0, (4, 4)), zorder=0)
ax.grid(which="major", axis="y", color="#e2e2e2", lw=1.0, ls=(0, (4, 4)), zorder=0)
ax.set_axisbelow(True)

ax.tick_params(axis="both", which="both", length=0)
ax.tick_params(axis="y", labelsize=15, pad=4, labelcolor="#222222")
ax.tick_params(axis="x", labelsize=14.6, pad=8, labelcolor="#222222")
for lbl in ax.get_xticklabels():
    lbl.set_rotation(60)
    lbl.set_ha("right")
    lbl.set_va("center")
    lbl.set_rotation_mode("anchor")

for sp in ax.spines.values():
    sp.set_color("#9a9a9a")
    sp.set_linewidth(1.2)

ax.set_xlabel("rpm", fontsize=18, color="#222222", labelpad=8)
ax.set_ylabel("SPL [dB]", fontsize=18, color="#222222", labelpad=8)

leg = ax.legend(loc="upper right", bbox_to_anchor=(0.980, 0.978), fontsize=15,
                frameon=True, fancybox=False, edgecolor="#444444", framealpha=1,
                borderpad=0.3, labelspacing=0.55, handlelength=1.45,
                handletextpad=0.3, borderaxespad=0)
leg.get_frame().set_linewidth(1.0)
leg.set_zorder(20)

fig.savefig("out.png", dpi=100)
